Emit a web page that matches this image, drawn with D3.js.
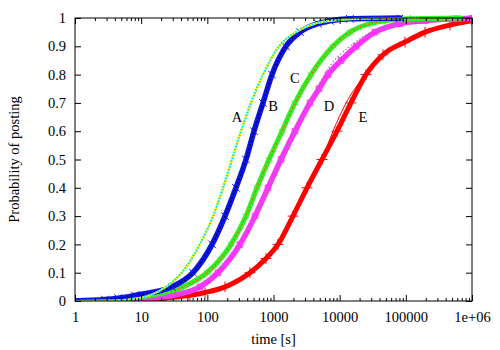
<!DOCTYPE html>
<html>
<head>
<meta charset="utf-8">
<script src="https://cdn.jsdelivr.net/npm/d3@7"></script>
<style>
  body { margin: 0; background: #fff; }
</style>
</head>
<body>
<svg id="chart" width="500" height="350"></svg>
<script>
// time [s] and cumulative probability
const aTime = [1, 2.84, 6.3, 13.6, 23.7, 41, 77, 122, 173, 236, 323, 457, 694, 1210, 2190, 4240, 7140, 17000, 164000]
const aProb = [0, 0.001, 0.005, 0.02, 0.05, 0.1, 0.2, 0.3, 0.4, 0.5, 0.6, 0.7, 0.8, 0.9, 0.95, 0.98, 0.99, 0.997, 1]

const bTime = [1, 2.84, 4.47, 8.07, 29.2, 60.7, 118, 185, 271, 384, 507, 694, 949, 1545, 2510, 4700, 7140, 14300, 81600]
const bProb = [0, 0.005, 0.01, 0.02, 0.05, 0.1, 0.2, 0.3, 0.4, 0.5, 0.6, 0.7, 0.8, 0.9, 0.95, 0.98, 0.99, 0.997, 1]

const cTime = [1, 3.38, 6.78, 13.6, 42.9, 98.8, 228, 384, 563, 855, 1345, 2110, 3690, 7930, 14300, 28700, 48400, 116000, 658000]
const cProb = [0, 0.003, 0.01, 0.02, 0.05, 0.1, 0.2, 0.3, 0.4, 0.5, 0.6, 0.7, 0.8, 0.9, 0.95, 0.98, 0.99, 0.997, 1]

const dTime = [1, 3.38, 13.6, 29.2, 77.4, 145, 312, 525, 826, 1300, 2110, 3560, 4870, 6660, 10500, 17700, 34200, 81600, 195000, 553000, 1e6]
const dProb = [0, 0.002, 0.01, 0.02, 0.05, 0.1, 0.2, 0.3, 0.4, 0.5, 0.6, 0.7, 0.75, 0.8, 0.85, 0.9, 0.95, 0.98, 0.99, 0.997, 0.999]

const eTime = [1, 13.6, 22.9, 54.7, 92.2, 185, 441, 770, 1170, 1970, 3210, 5410, 9120, 14800, 25000, 45100, 97100, 195000, 465000, 1e6]
const eProb = [0, 0.005, 0.01, 0.02, 0.03, 0.05, 0.1, 0.15, 0.2, 0.3, 0.4, 0.5, 0.6, 0.7, 0.8, 0.87, 0.915, 0.95, 0.975, 0.99]

// fitted curves that part from the data somewhere
const dFitTime = [1, 13.6, 55, 155, 441, 885, 1390, 2510, 4240, 7140, 14300, 57600, 232000, 1e6]
const dFitProb = [0, 0.01, 0.04, 0.12, 0.27, 0.41, 0.51, 0.64, 0.74, 0.83, 0.90, 0.975, 0.993, 1]
const eFitTime = [3210, 5410, 7930, 12500, 25000]
const eFitProb = [0.4, 0.5, 0.6, 0.7, 0.8]

const xTicks = [1, 10, 100, 1000, 10000, 100000, 1e6]
const xTickLabels = ['1', '10', '100', '1000', '10000', '100000', '1e+06']
const yTicks = [0, 0.1, 0.2, 0.3, 0.4, 0.5, 0.6, 0.7, 0.8, 0.9, 1]
const yTickLabels = ['0', '0.1', '0.2', '0.3', '0.4', '0.5', '0.6', '0.7', '0.8', '0.9', '1']

const curveNames = ['A', 'B', 'C', 'D', 'E']
const curveLabelTime = [281, 982, 2110, 6900, 22500]
const curveLabelProb = [0.65, 0.689, 0.788, 0.689, 0.65]

const W = 500, H = 350
const margin = { left: 75, right: 28, top: 18, bottom: 49 }
const FONT = '"Liberation Serif", "Times New Roman", Times, serif'
const FONT_SIZE = 14.5

const svg = d3.select('#chart')
  .attr('font-family', FONT).attr('font-size', FONT_SIZE)
const x = d3.scaleLog().domain([1, 1e6]).range([margin.left, W - margin.right])
const y = d3.scaleLinear().domain([0, 1]).range([H - margin.bottom, margin.top])

const zip = (ts, ps) => ts.map((t, i) => [t, ps[i]])
const line = d3.line().x(d => x(d[0])).y(d => y(d[1])).curve(d3.curveMonotoneX)

const plot = svg.append('g')
plot.append('clipPath').attr('id', 'clip').append('rect')
  .attr('x', x.range()[0]).attr('y', y.range()[1] - 3)
  .attr('width', x.range()[1] - x.range()[0]).attr('height', y.range()[0] - y.range()[1] + 3)
const curves = plot.append('g').attr('clip-path', 'url(#clip)')

function band (data, color, width) {
  curves.append('path').datum(data)
    .attr('d', line).attr('fill', 'none')
    .attr('stroke', color).attr('stroke-width', width)
    .attr('stroke-linejoin', 'round').attr('stroke-linecap', 'round')
}

function dotted (data, color, width, dash) {
  curves.append('path').datum(data)
    .attr('d', line).attr('fill', 'none')
    .attr('stroke', color).attr('stroke-width', width)
    .attr('stroke-dasharray', dash)
}

function markers (data, color, type, size) {
  const sym = d3.symbol().type(type).size(size)
  curves.append('g').selectAll('path').data(data.filter(d => d[1] > 0)).join('path')
    .attr('transform', d => `translate(${x(d[0])},${y(d[1])})`)
    .attr('d', sym).attr('fill', 'none')
    .attr('stroke', color).attr('stroke-width', 1)
}

band(zip(eTime, eProb), '#ff0000', 5)
markers(zip(eTime, eProb), '#ff0000', d3.symbolPlus, 40)
dotted(zip(eFitTime, eFitProb), '#ff0000', 1, 'none')

band(zip(dTime, dProb), '#ff33ff', 5.5)
markers(zip(dTime, dProb), '#ff33ff', d3.symbolSquare2, 40)
dotted(zip(dFitTime, dFitProb), '#888888', 1.2, '1.5,2')

band(zip(cTime, cProb), '#33ee22', 5)
markers(zip(cTime, cProb), '#33ee22', d3.symbolAsterisk, 40)
dotted(zip(cTime, cProb), '#ff5500', 1.2, '1.5,2.5')

band(zip(bTime, bProb), '#0a14e6', 5.5)
markers(zip(bTime, bProb), '#0a14e6', d3.symbolTimes, 40)
dotted(zip(bTime, bProb), '#000000', 1.2, '1.5,2.5')

dotted(zip(aTime, aProb), '#ffff00', 2.2, 'none')
dotted(zip(aTime, aProb), '#00e5ff', 2.2, '1.5,1.5')

// curve labels
plot.selectAll('text.curve').data(curveNames).join('text')
  .attr('class', 'curve')
  .attr('x', (d, i) => x(curveLabelTime[i]))
  .attr('y', (d, i) => y(curveLabelProb[i]))
  .attr('text-anchor', 'middle').attr('dy', '0.35em')
  .text(d => d)

// axes, gnuplot style: ticks point inward, mirrored on top and right
const minor = []
for (let dec = 1; dec < 1e6; dec *= 10) for (let k = 2; k <= 9; k++) minor.push(dec * k)

const gx = svg.append('g').attr('transform', `translate(0,${y(0)})`)
gx.call(d3.axisBottom(x).tickValues(xTicks).tickSizeInner(-6).tickSizeOuter(0).tickPadding(10.5)
  .tickFormat((d, i) => xTickLabels[i]))
const gxm = svg.append('g').attr('transform', `translate(0,${y(0)})`)
gxm.call(d3.axisBottom(x).tickValues(minor).tickSizeInner(-3).tickSizeOuter(0).tickFormat(''))
const gt = svg.append('g').attr('transform', `translate(0,${y(1)})`)
gt.call(d3.axisTop(x).tickValues(xTicks).tickSizeInner(-6).tickSizeOuter(0).tickFormat(''))
const gtm = svg.append('g').attr('transform', `translate(0,${y(1)})`)
gtm.call(d3.axisTop(x).tickValues(minor).tickSizeInner(-3).tickSizeOuter(0).tickFormat(''))

const gy = svg.append('g').attr('transform', `translate(${x(1)},0)`)
gy.call(d3.axisLeft(y).tickValues(yTicks).tickSizeInner(-6).tickSizeOuter(0).tickPadding(9)
  .tickFormat((d, i) => yTickLabels[i]))
const gr = svg.append('g').attr('transform', `translate(${x(1e6)},0)`)
gr.call(d3.axisRight(y).tickValues(yTicks).tickSizeInner(-6).tickSizeOuter(0).tickFormat(''))

svg.selectAll('.domain').remove()
svg.selectAll('.tick line').attr('stroke', '#000')
;[gx, gxm, gt, gtm, gy, gr].forEach(g => g.attr('font-family', FONT).attr('font-size', FONT_SIZE))

svg.append('rect')
  .attr('x', x(1)).attr('y', y(1))
  .attr('width', x(1e6) - x(1)).attr('height', y(0) - y(1))
  .attr('fill', 'none').attr('stroke', '#000').attr('stroke-width', 1)

svg.append('text')
  .attr('x', (x(1) + x(1e6)) / 2).attr('y', 344)
  .attr('text-anchor', 'middle')
  .text('time [s]')

svg.append('text')
  .attr('transform', `translate(19,${(y(0) + y(1)) / 2}) rotate(-90)`)
  .attr('text-anchor', 'middle')
  .text('Probability of posting')
</script>
</body>
</html>
